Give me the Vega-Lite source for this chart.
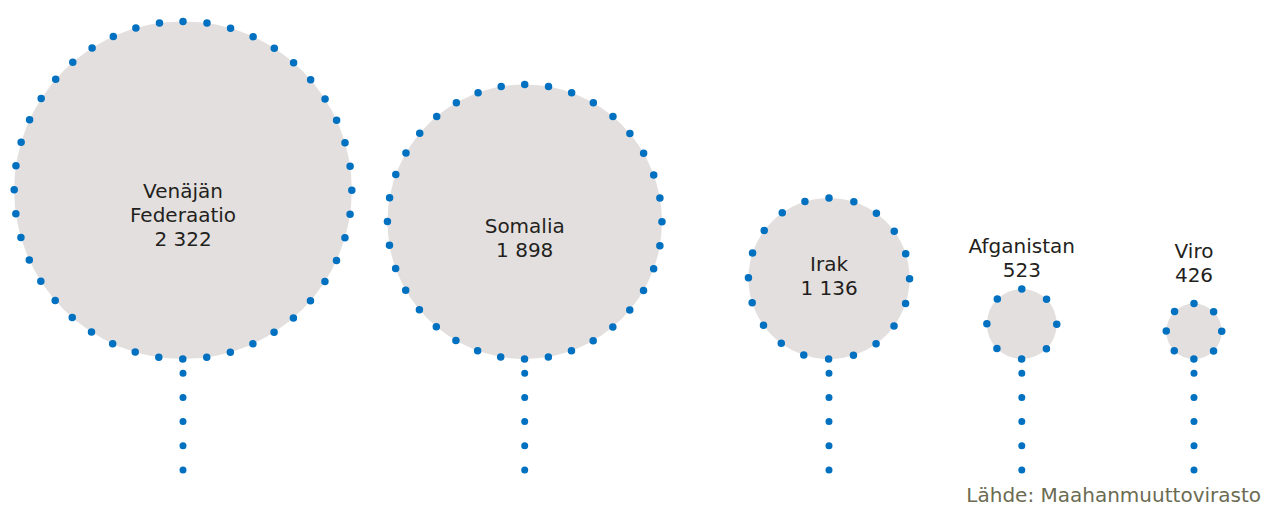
{
  "$schema": "https://vega.github.io/schema/vega-lite/v6.json",
  "width": 1261,
  "height": 505,
  "autosize": "none",
  "padding": 0,
  "background": "#ffffff",
  "config": {"view": {"stroke": null}},
  "title": {
    "text": "Lähde: Maahanmuuttovirasto",
    "orient": "bottom",
    "anchor": "end",
    "frame": "group",
    "offset": -3,
    "baseline": "alphabetic",
    "font": "DejaVu Sans",
    "fontSize": 20,
    "fontWeight": "normal",
    "color": "#6b6b52"
  },
  "data": {
    "values": [
      {"country": "Venäjän Federaatio", "value": 2322, "label": "Venäjän\nFederaatio\n2 322"},
      {"country": "Somalia", "value": 1898, "label": "Somalia\n 1 898"},
      {"country": "Irak", "value": 1136, "label": "Irak\n 1 136"},
      {"country": "Afganistan", "value": 523, "label": "Afganistan\n523"},
      {"country": "Viro", "value": 426, "label": "Viro\n426"}
    ]
  },
  "encoding": {
    "x": {
      "field": "value",
      "type": "quantitative",
      "axis": null,
      "scale": {"domain": [426, 523, 1136, 1898, 2322], "range": [1194, 1021.8, 829, 524.7, 183], "zero": false, "nice": false}
    }
  },
  "layer": [
    {
      "encoding": {
        "y": {"field": "value", "type": "quantitative", "axis": null, "scale": {"domain": [0, 2322], "range": [362.97, 190.19], "zero": false, "nice": false}},
        "radius": {"field": "value", "type": "quantitative", "stack": null, "scale": {"type": "linear", "domain": [426, 2322], "range": [27.73, 168.81], "zero": false, "nice": false}}
      },
      "layer": [
        {
          "mark": {"type": "rule", "stroke": "#0070c0", "strokeWidth": 7, "strokeCap": "round", "strokeDash": [0, 24.2]},
          "encoding": {
            "y": {"datum": -1438.4, "type": "quantitative"},
            "y2": {"datum": -121.4},
            "radius": null
          }
        },
        {
          "transform": [{"filter": "datum.country === 'Venäjän Federaatio'"}],
          "mark": {"type": "arc", "theta": 0, "theta2": 6.2832, "radius2": 0, "fill": "#e3dfde", "stroke": "#0070c0", "strokeWidth": 7.5, "strokeCap": "round", "strokeDash": [0, 24.107]}
        },
        {
          "transform": [{"filter": "datum.country === 'Somalia'"}],
          "mark": {"type": "arc", "theta": 0, "theta2": 6.2832, "radius2": 0, "fill": "#e3dfde", "stroke": "#0070c0", "strokeWidth": 7.5, "strokeCap": "round", "strokeDash": [0, 23.956]}
        },
        {
          "transform": [{"filter": "datum.country === 'Irak'"}],
          "mark": {"type": "arc", "theta": 0, "theta2": 6.2832, "radius2": 0, "fill": "#e3dfde", "stroke": "#0070c0", "strokeWidth": 7.5, "strokeCap": "round", "strokeDash": [0, 25.309]}
        },
        {
          "transform": [{"filter": "datum.country === 'Afganistan'"}],
          "mark": {"type": "arc", "theta": 0, "theta2": 6.2832, "radius2": 0, "fill": "#e3dfde", "stroke": "#0070c0", "strokeWidth": 7.5, "strokeCap": "round", "strokeDash": [0, 27.449]}
        },
        {
          "transform": [{"filter": "datum.country === 'Viro'"}],
          "mark": {"type": "arc", "theta": 0, "theta2": 6.2832, "radius2": 0, "fill": "#e3dfde", "stroke": "#0070c0", "strokeWidth": 7.5, "strokeCap": "round", "strokeDash": [0, 21.778]}
        }
      ]
    },
    {
      "layer": [
        {
          "transform": [{"filter": "datum.value >= 2000"}],
          "mark": {"type": "text", "align": "center", "baseline": "middle", "dy": -24, "lineBreak": "\n", "lineHeight": 24, "font": "DejaVu Sans", "fontSize": 20, "color": "#231f20"},
          "encoding": {
            "y": {"field": "value", "type": "quantitative", "axis": null, "scale": {"domain": [0, 2322], "range": [331.5, 216.0], "zero": false, "nice": false}},
            "text": {"field": "label"}
          }
        },
        {
          "transform": [{"filter": "datum.value >= 1000 && datum.value < 2000"}],
          "mark": {"type": "text", "align": "center", "baseline": "middle", "dy": -10, "lineBreak": "\n", "lineHeight": 24, "font": "DejaVu Sans", "fontSize": 20, "color": "#231f20"},
          "encoding": {
            "y": {"field": "value", "type": "quantitative", "axis": null},
            "text": {"field": "label"}
          }
        },
        {
          "transform": [{"filter": "datum.value < 1000"}],
          "mark": {"type": "text", "align": "center", "baseline": "middle", "dy": -58.5, "lineBreak": "\n", "lineHeight": 24, "font": "DejaVu Sans", "fontSize": 20, "color": "#231f20"},
          "encoding": {
            "y": {"field": "value", "type": "quantitative", "axis": null},
            "text": {"field": "label"}
          }
        }
      ]
    }
  ],
  "resolve": {"scale": {"y": "independent"}}
}
